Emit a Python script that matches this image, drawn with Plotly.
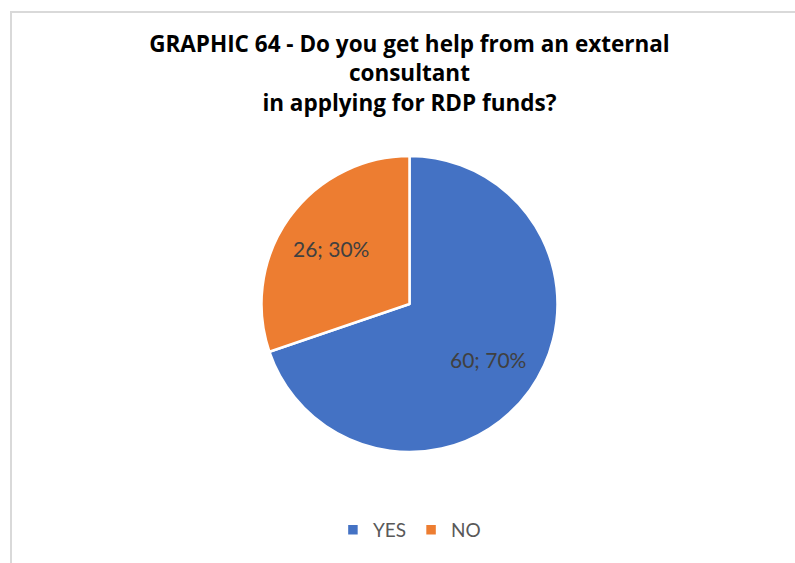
import math
import plotly.graph_objects as go

# Survey answers
answers = ["YES", "NO"]
counts = [60, 26]
colors = ["#4472C4", "#ED7D31"]

title_lines = [
    "GRAPHIC 64 - Do you get help from an external",
    "consultant",
    "in applying for RDP funds?",
]

W, H = 795, 563

# pie placement (pixels) converted to paper fractions
cx, cy, r = 409.5, 304, 148
dom_x = [(cx - r) / W, (cx + r) / W]
dom_y = [(H - cy - r) / H, (H - cy + r) / H]

fig = go.Figure(
    go.Pie(
        labels=answers,
        values=counts,
        sort=False,
        direction="clockwise",
        rotation=0,
        marker=dict(colors=colors, line=dict(color="white", width=2.5)),
        textinfo="none",
        hoverinfo="label+value+percent",
        domain=dict(x=dom_x, y=dom_y),
    )
)

# data labels "value; percent" placed inside each slice along its mid-angle
total = sum(counts)
label_radius = 0.65 * r
start = 0.0
annotations = []
for n in counts:
    frac = n / total
    mid = 2 * math.pi * (start + frac / 2)
    lx = cx + label_radius * math.sin(mid)
    ly = cy - label_radius * math.cos(mid)
    annotations.append(
        dict(
            text=f"{n}; {round(frac * 100)}%",
            x=lx / W,
            y=1 - ly / H,
            xref="paper",
            yref="paper",
            showarrow=False,
            xanchor="center",
            yanchor="middle",
            font=dict(family="Lato", size=21, color="#404040"),
        )
    )
    start += frac

fig.update_layout(
    width=W,
    height=H,
    margin=dict(l=0, r=0, t=0, b=0),
    paper_bgcolor="white",
    plot_bgcolor="white",
    title=dict(
        text="<b>" + "<br>".join(title_lines) + "</b>",
        x=0.515,
        xanchor="center",
        y=1 - 52 / H,
        yanchor="top",
        font=dict(family="Open Sans", size=22.5, color="black"),
    ),
    legend=dict(
        orientation="h",
        x=0.515,
        xanchor="center",
        y=1 - 511 / H,
        yanchor="top",
        font=dict(family="Lato", size=19, color="#595959"),
        itemwidth=30,
    ),
    annotations=annotations,
    shapes=[
        dict(
            type="rect",
            xref="paper",
            yref="paper",
            x0=11 / W,
            x1=1.02,
            y0=-0.02,
            y1=1 - 12 / H,
            line=dict(color="#D9D9D9", width=2),
            fillcolor="rgba(0,0,0,0)",
            layer="below",
        )
    ],
)

fig.write_html("out.html")
